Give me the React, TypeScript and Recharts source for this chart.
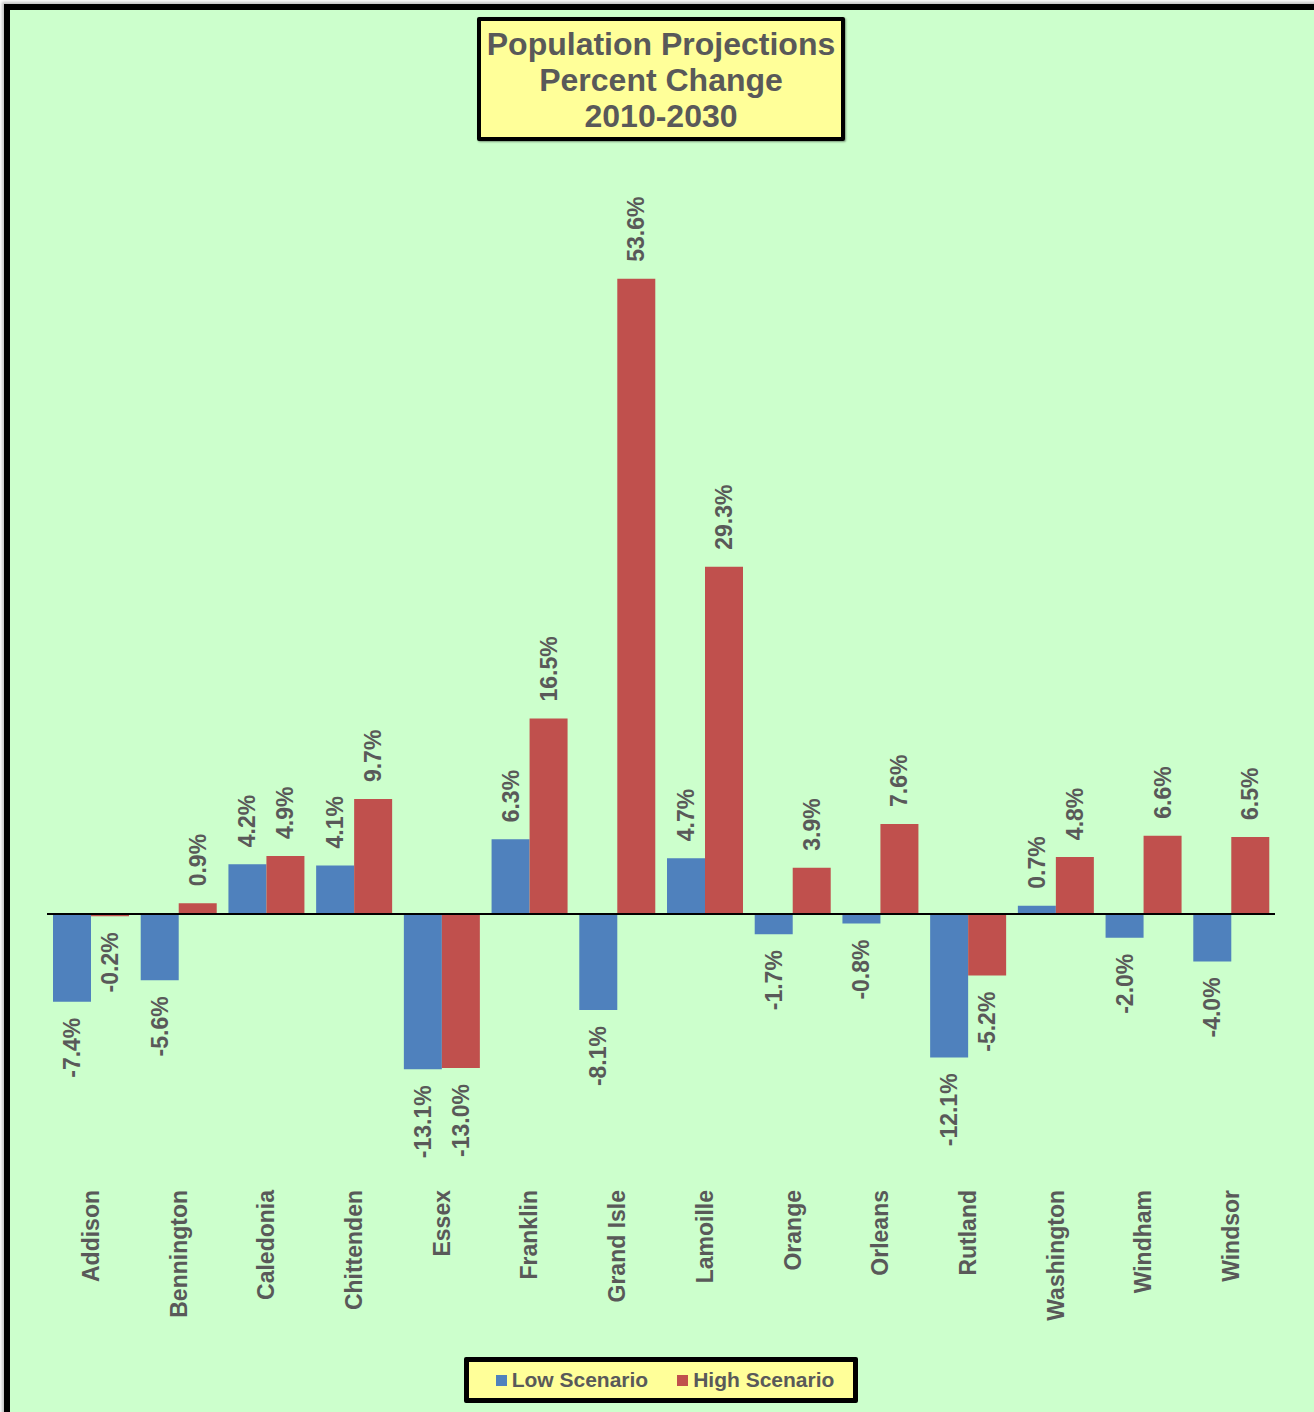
import React from 'react';
import {
  BarChart,
  Bar,
  XAxis,
  YAxis,
  ReferenceLine,
  LabelList,
  Legend,
} from 'recharts';

const counties = [
  'Addison',
  'Bennington',
  'Caledonia',
  'Chittenden',
  'Essex',
  'Franklin',
  'Grand Isle',
  'Lamoille',
  'Orange',
  'Orleans',
  'Rutland',
  'Washington',
  'Windham',
  'Windsor',
];
const lowScenario = [-7.4, -5.6, 4.2, 4.1, -13.1, 6.3, -8.1, 4.7, -1.7, -0.8, -12.1, 0.7, -2.0, -4.0];
const highScenario = [-0.2, 0.9, 4.9, 9.7, -13.0, 16.5, 53.6, 29.3, 3.9, 7.6, -5.2, 4.8, 6.6, 6.5];
const titleLines = ['Population Projections', 'Percent Change', '2010-2030'];

const data = counties.map((name, i) => ({
  name,
  low: lowScenario[i],
  high: highScenario[i],
}));

const FONT = '"Liberation Sans", Arial, Helvetica, sans-serif';
const TEXT = '#595959';
const BLUE = '#4F81BD';
const RED = '#C0504D';
const TICK_TOP = 1190;

const CountyTick = (props: any) => {
  const { x, payload } = props;
  return (
    <text
      x={x}
      y={TICK_TOP}
      transform={`rotate(-90 ${x} ${TICK_TOP})`}
      textAnchor="end"
      dominantBaseline="central"
      fill={TEXT}
      fontFamily={FONT}
      fontWeight="bold"
      fontSize={23}
    >
      {payload.value}
    </text>
  );
};

const ValueLabel = (props: any) => {
  const { x, y, width, height, value } = props;
  const cx = Number(x) + Number(width) / 2;
  const top = Math.min(Number(y), Number(y) + Number(height));
  const bottom = Math.max(Number(y), Number(y) + Number(height));
  const pos = Number(value) >= 0;
  const ly = pos ? top - 17 : bottom + 16;
  return (
    <text
      x={cx}
      y={ly}
      transform={`rotate(-90 ${cx} ${ly})`}
      textAnchor={pos ? 'start' : 'end'}
      dominantBaseline="central"
      fill={TEXT}
      fontFamily={FONT}
      fontWeight="bold"
      fontSize={23}
    >
      {Number(value).toFixed(1)}%
    </text>
  );
};

const LegendBox = () => (
  <div
    style={{
      boxSizing: 'border-box',
      width: 394,
      height: 46,
      background: '#FFFF99',
      border: '5px solid #000',
      borderRadius: 2,
      display: 'flex',
      alignItems: 'center',
      justifyContent: 'center',
      paddingLeft: 8,
      fontFamily: FONT,
      fontWeight: 'bold',
      fontSize: 21,
      color: TEXT,
    }}
  >
    <span style={{ width: 11, height: 11, background: BLUE, marginRight: 5 }} />
    <span style={{ marginRight: 29 }}>Low Scenario</span>
    <span style={{ width: 11, height: 11, background: RED, marginRight: 5 }} />
    <span>High Scenario</span>
  </div>
);

export default function App() {
  return (
    <div style={{ position: 'absolute', left: 0, top: 0, width: 1314, height: 1412, overflow: 'hidden', background: '#fff' }}>
      <div
        style={{
          position: 'absolute',
          left: 4,
          top: 4,
          width: 1320,
          height: 1430,
          boxSizing: 'border-box',
          border: '6px solid #000',
          background: '#CCFFCC',
          boxShadow: '-2px -2px 3px rgba(0,0,0,0.25)',
        }}
      />
      <div style={{ position: 'absolute', left: 0, top: 0 }}>
        <BarChart
          width={1314}
          height={1412}
          data={data}
          margin={{ top: 203, right: 39, left: 47, bottom: 61 }}
          barSize={38}
          barGap={0}
        >
          <XAxis
            dataKey="name"
            height={200}
            axisLine={false}
            tickLine={false}
            interval={0}
            tick={<CountyTick />}
          />
          <YAxis hide domain={[-20, 60]} />
          <Bar dataKey="low" name="Low Scenario" fill={BLUE} isAnimationActive={false}>
            <LabelList dataKey="low" content={<ValueLabel />} />
          </Bar>
          <Bar dataKey="high" name="High Scenario" fill={RED} isAnimationActive={false}>
            <LabelList dataKey="high" content={<ValueLabel />} />
          </Bar>
          <ReferenceLine y={0} stroke="#000" strokeWidth={2} />
          <Legend
            layout="horizontal"
            verticalAlign="middle"
            align="center"
            content={<LegendBox />}
            wrapperStyle={{ left: 464, top: 1357, width: 394, height: 46 }}
          />
        </BarChart>
      </div>
      <div
        style={{
          position: 'absolute',
          left: 477,
          top: 17,
          width: 368,
          height: 124,
          boxSizing: 'border-box',
          border: '4px solid #000',
          borderRadius: 2,
          background: '#FFFF99',
          boxShadow: '1px 1px 2px rgba(0,0,0,0.4)',
          paddingTop: 5,
          textAlign: 'center',
          fontFamily: FONT,
          fontWeight: 'bold',
          fontSize: 32,
          lineHeight: '36px',
          color: TEXT,
        }}
      >
        {titleLines.map((t) => (
          <div key={t}>{t}</div>
        ))}
      </div>
    </div>
  );
}
